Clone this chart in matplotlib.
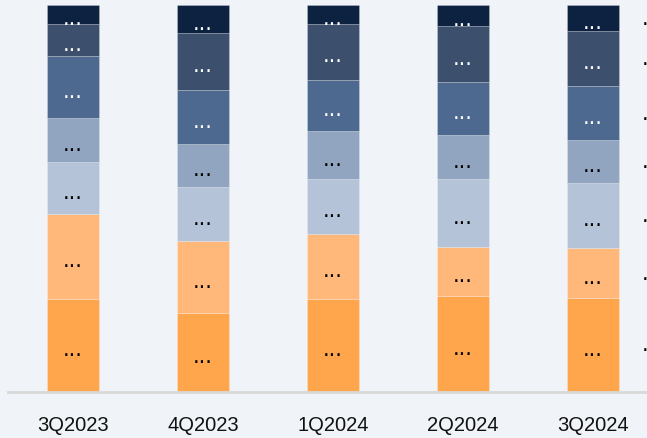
import matplotlib
matplotlib.use("Agg")
import matplotlib.pyplot as plt
from matplotlib import font_manager
import numpy as np

categories = ["3Q2023", "4Q2023", "1Q2024", "2Q2024", "3Q2024"]
# shares (%) of each series, bottom to top
s1 = [24.0, 20.4, 24.0, 24.7, 24.2]
s2 = [22.0, 18.5, 16.7, 12.7, 12.9]
s3 = [13.4, 14.0, 14.3, 17.5, 16.9]
s4 = [11.4, 11.1, 12.3, 11.5, 11.1]
s5 = [16.1, 14.0, 13.4, 13.6, 13.9]
s6 = [8.2, 14.7, 14.5, 14.5, 14.2]
s7 = [4.9, 7.3, 4.7, 5.5, 6.8]
series = [s1, s2, s3, s4, s5, s6, s7]
labels = ["...", "...", "...", "...", "...", "...", "..."]
colors = ["#FFA64D", "#FFB87A", "#B4C3D8", "#91A5C1", "#4E698F", "#3C506E", "#0D2241"]
text_colors = ["black", "black", "black", "black", "white", "white", "white"]

names = {f.name for f in font_manager.fontManager.ttflist}
if "Liberation Sans Narrow" in names:
    tick_font, tick_size = "Liberation Sans Narrow", 16.5
else:
    tick_font, tick_size = "Liberation Sans", 14.5

W, H, DPI = 647, 439, 100
fig = plt.figure(figsize=(W / DPI, H / DPI), dpi=DPI)
bg = "#F0F4F8"
fig.patch.set_facecolor(bg)
ax = fig.add_axes([8 / W, (H - 392.7) / H, 650 / W, 386.7 / H])
ax.set_facecolor(bg)

x = np.arange(len(categories))
bw = 0.4
bottom = np.zeros(len(categories))
for k, vals in enumerate(series):
    vals = np.array(vals)
    ax.bar(x, vals, bw, bottom=bottom, color=colors[k], edgecolor=(1, 1, 1, 0.25),
           linewidth=0.6, zorder=2)
    centers = bottom + vals / 2
    for i in range(len(categories)):
        ax.annotate(labels[k], xy=(x[i], centers[i]), xytext=(0, -7.0),
                    textcoords="offset points", ha="center", va="baseline",
                    fontsize=15, color=text_colors[k], family="DejaVu Sans",
                    zorder=3)
    # series label at right of last bar (clipped by figure edge in the original)
    ax.annotate(labels[k], xy=(x[-1] + bw / 2, centers[-1]), xytext=(16.5, -4.0),
                textcoords="offset points", ha="left", va="baseline",
                fontsize=15, color="black", family="DejaVu Sans",
                annotation_clip=False, zorder=3)
    bottom = bottom + vals

ax.set_xlim(-0.5, len(categories) - 0.5)
ax.set_ylim(0, 100)
ax.set_yticks([])
ax.set_xticks(x)
ax.set_xticklabels(categories, fontsize=tick_size, family=tick_font, color="#111111")
ax.tick_params(axis="x", length=0, pad=17)
for side in ["top", "left", "right"]:
    ax.spines[side].set_visible(False)
ax.spines["bottom"].set_color("#D9D9D9")
ax.spines["bottom"].set_linewidth(2)

fig.savefig("out.png", dpi=DPI, facecolor=bg)
